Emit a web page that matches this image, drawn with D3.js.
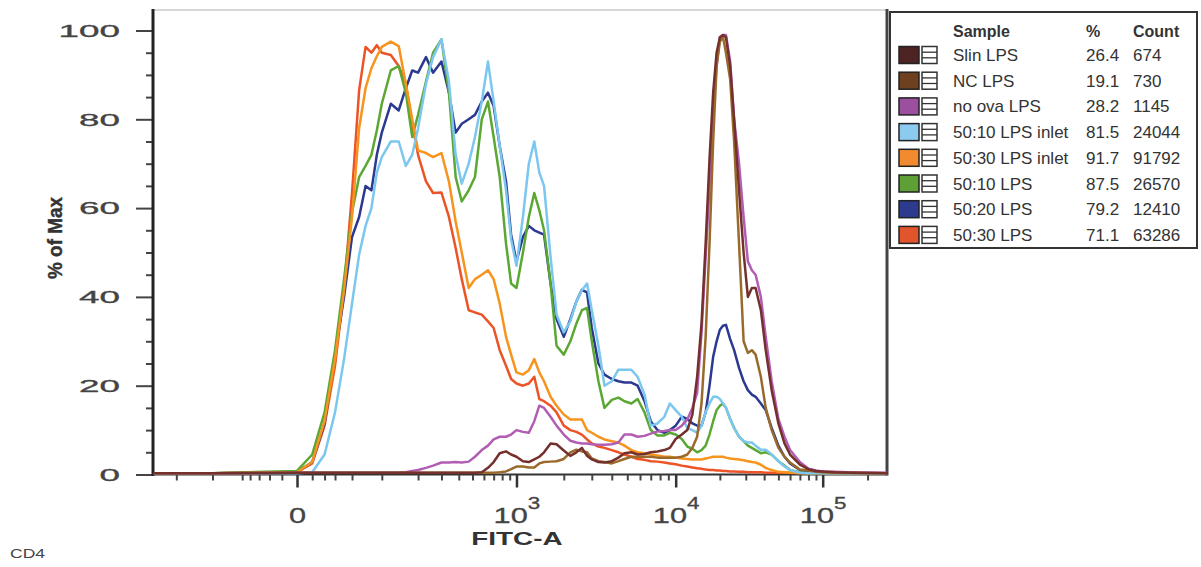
<!DOCTYPE html>
<html><head><meta charset="utf-8">
<script src="https://cdn.jsdelivr.net/npm/d3@7"></script>
<style>
body{margin:0;background:#fff;}
svg{display:block;font-family:"Liberation Sans",Arial,Helvetica,sans-serif;}
</style>
</head><body>
<svg id="c" width="1201" height="567"></svg>
<script>
// ---------------- DATA ----------------
// FITC-A bin centres (logicle display)
const binValues = [-300, -100, 0, 10, 20, 30, 40, 50, 60, 70,
  80, 90, 100, 120, 140, 160, 180, 200, 230, 260,
  300, 340, 380, 420, 470, 520, 580, 640, 700, 770,
  850, 920, 1000, 1100, 1200, 1300, 1400, 1500, 1650, 1800,
  2000, 2200, 2400, 2600, 2800, 3000, 3300, 3600, 4000, 4400,
  4800, 5300, 5800, 6400, 7000, 7700, 8500, 9200, 10000, 11000,
  12000, 13000, 14000, 15000, 16000, 17000, 18000, 19000, 20000, 21000,
  22000, 23500, 25000, 27000, 29000, 31000, 33000, 35000, 38000, 41000,
  45000, 50000, 55000, 60000, 70000, 80000, 90000, 100000, 120000, 150000,
  270000];

const seriesNames = ["Slin LPS", "NC LPS", "no ova LPS", "50:10 LPS inlet", "50:30 LPS inlet", "50:10 LPS", "50:20 LPS", "50:30 LPS"];
const seriesPercent = ["26.4", "19.1", "28.2", "81.5", "91.7", "87.5", "79.2", "71.1"];
const seriesCount = ["674", "730", "1145", "24044", "91792", "26570", "12410", "63286"];
const seriesColors = ["#74302d", "#9a6a2c", "#b25db4", "#7cc7ef", "#f7941d", "#5aa833", "#2b3990", "#ec5427"];
const swatchColors = ["#4e2323", "#6e4020", "#9c4f9e", "#8ccbef", "#f28b2f", "#5e9f36", "#2d3b8e", "#e0552c"];

// % of Max per bin
const slinLPS = [0.3, 0.3, 0.4, 0.4, 0.4, 0.4, 0.4, 0.4, 0.4, 0.4,
  0.4, 0.4, 0.4, 0.4, 0.4, 0.4, 0.4, 0.4, 0.4, 0.4,
  0.4, 0.4, 0.4, 0.4, 0.4, 0.4, 0.5, 1.5, 2.8, 4.8,
  5.2, 4.5, 4, 3, 2.8, 3.4, 4, 5, 7, 6.8,
  5.4, 4.2, 5, 6, 4.2, 3.4, 2.8, 2.7, 3, 3.8,
  4.8, 5, 4.5, 4.6, 5, 5.2, 5.5, 6, 8, 9,
  10, 13.5, 22, 34, 52, 71, 86, 95, 98.5, 99,
  98.5, 92, 80, 64, 50, 40, 42, 42, 37, 28,
  19, 11.5, 7, 4.5, 2.2, 1.2, 0.8, 0.7, 0.5, 0.4,
  0.3];
const ncLPS = [0.3, 0.3, 0.4, 0.4, 0.4, 0.4, 0.4, 0.4, 0.4, 0.4,
  0.4, 0.4, 0.4, 0.4, 0.4, 0.4, 0.4, 0.4, 0.4, 0.4,
  0.4, 0.4, 0.4, 0.4, 0.4, 0.4, 0.4, 0.4, 0.4, 0.5,
  0.7, 1.2, 1.8, 1.8, 1.6, 1.6, 2.5, 2.8, 2.9, 3,
  3.5, 5, 5.6, 5.2, 5, 3.6, 3, 2.8, 2.5, 3,
  3.5, 4, 4, 4, 4, 3.8, 3.8, 3.8, 3.8, 4,
  4.5, 6, 8.5, 16, 31, 52, 75, 92, 97.5, 98.5,
  95, 89, 75, 52, 30, 27.4, 28, 27, 22, 15,
  10, 6, 4, 2.7, 1.1, 0.9, 0.6, 0.5, 0.4, 0.4,
  0.3];
const noOvaLPS = [0.3, 0.3, 0.4, 0.4, 0.4, 0.4, 0.4, 0.4, 0.4, 0.4,
  0.4, 0.4, 0.4, 0.4, 0.4, 0.5, 0.8, 1, 1.5, 2,
  2.7, 2.7, 2.8, 2.7, 2.9, 4, 5.5, 6.5, 7.9, 8.5,
  8.5, 9, 10, 9.6, 9.4, 12, 15.5, 15, 13, 11,
  9, 7.6, 7.2, 7, 7, 6.8, 6.7, 6.7, 6.8, 7.2,
  9, 9, 8.5, 8.7, 9.2, 9.7, 9.8, 10, 10, 11,
  12.4, 15, 18.4, 32, 49, 65, 81, 92, 98.5, 99,
  99, 93, 80, 70, 58, 48, 46, 45, 40, 31,
  21, 12.5, 8.5, 5.5, 2.8, 1.3, 0.9, 0.7, 0.6, 0.5,
  0.4];
const lps5010Inlet = [0.3, 0.3, 0.3, 0.5, 4.5, 14, 26, 38.5, 49.5, 56,
  60, 68, 71.5, 75, 75, 69.5, 72, 78, 88, 94,
  98, 88.5, 72, 65.5, 70, 76, 84, 93, 84, 74,
  64, 53, 47, 58, 70, 75, 68, 65, 49, 36,
  32, 34.5, 39, 41.5, 43, 37, 29, 20, 21, 23.6,
  23.6, 23.6, 22, 18, 11, 11.5, 13, 16, 14.5, 13,
  10.5, 10, 9.4, 11, 14, 16, 17.5, 17.5, 17, 16,
  15, 12.5, 10.5, 8.5, 7.5, 7.2, 7.2, 6.5, 5.6, 5.6,
  4.5, 3, 1.8, 1, 0.4, 0.3, 0.3, 0.3, 0.3, 0.3,
  0.3];
const lps5030Inlet = [0.3, 0.3, 0.5, 2.8, 12, 26, 41.5, 58, 78, 87,
  91.5, 94.2, 96.3, 97.5, 96.5, 88, 80, 73, 72.4, 71.5,
  72.4, 66, 57, 50, 42, 44, 45, 46, 44, 38.5,
  31, 27, 23, 22.5, 23.5, 26, 23, 21, 17.5, 15.5,
  13.5, 12.4, 12.4, 12.4, 10, 9.4, 8.5, 7.9, 7.5, 7.2,
  6.5, 5.5, 5, 4.8, 4.5, 4.3, 4, 4, 3.8, 3.6,
  3.5, 3.4, 3.4, 3.4, 3.6, 3.8, 4, 4, 4, 4,
  3.8, 3.6, 3.5, 3.4, 3.2, 3, 2.8, 2.7, 2.2, 1.5,
  1, 0.6, 0.5, 0.4, 0.3, 0.3, 0.3, 0.3, 0.3, 0.3,
  0.3];
const lps5010 = [0.3, 0.3, 0.8, 4.5, 14, 28, 44, 59, 67, 69.5,
  72, 77.5, 83.5, 91, 92, 86, 76, 81, 88.5, 95,
  98, 86, 67, 61.5, 64, 67, 80, 84, 76, 67,
  52, 43, 42, 50, 58, 63.4, 59.5, 55, 43, 29,
  27, 30, 34, 37, 37.5, 30, 21, 15, 16.8, 17.3,
  16.5, 16, 17, 14, 10, 8.8, 8.8, 9.4, 9, 8,
  6.3, 5.8, 5, 5.5, 6.5, 9, 12, 14.5, 15.5, 16,
  15, 12.5, 10.5, 8.5, 7.5, 6.5, 6, 5.5, 4.8, 5,
  4.5, 3, 2, 1, 0.5, 0.3, 0.3, 0.3, 0.3, 0.3,
  0.3];
const lps5020 = [0.3, 0.3, 0.5, 2.8, 11.5, 27, 40, 53.5, 58, 65,
  64, 72, 77, 83.5, 82, 87, 91, 90.5, 94, 90.5,
  93, 86, 77, 79, 80, 81, 84, 86, 83, 74,
  66, 54, 48, 53.5, 56, 55, 54.5, 54, 43, 35,
  31, 35, 39, 41.6, 41, 33, 25, 22.5, 21.5, 21,
  20.7, 20.7, 20, 16.5, 12, 10, 9.4, 10, 11, 13,
  12.5, 11.5, 11, 11, 14, 20, 26.5, 30, 32.6, 33.5,
  33.7, 30.5, 28, 24, 21, 19, 18, 17.5, 16, 14.5,
  10.5, 6.5, 4, 2.5, 1, 0.5, 0.3, 0.3, 0.3, 0.3,
  0.3];
const lps5030 = [0.3, 0.3, 0.5, 2.5, 11, 24.5, 41.5, 63.4, 86.5, 96.3,
  95, 96.7, 95, 94.5, 92, 88, 79, 72, 66, 63.4,
  63.5, 58, 51, 44, 37, 36.5, 36, 34.5, 33, 28,
  24.5, 21.5, 20.5, 20, 20.5, 22, 17, 16.5, 15.5, 14,
  11, 10, 9.6, 9, 7.9, 7, 6.3, 6, 5.5, 5,
  4.5, 4, 3.5, 3.3, 3, 2.9, 2.7, 2.5, 2.3, 2,
  1.8, 1.6, 1.4, 1.3, 1.1, 1, 1, 0.9, 0.9, 0.8,
  0.8, 0.7, 0.7, 0.6, 0.6, 0.5, 0.5, 0.5, 0.5, 0.4,
  0.4, 0.4, 0.4, 0.4, 0.4, 0.3, 0.3, 0.3, 0.3, 0.3,
  0.3];

const seriesValues = [slinLPS, ncLPS, noOvaLPS, lps5010Inlet, lps5030Inlet, lps5010, lps5020, lps5030];

// axis ticks
const xMajorTicks = [0, 1000, 10000, 100000];
const xMinorTicks = [-200, -100, -50, -40, -30, -20, -10, 10, 20, 30, 50,
  100, 200, 300, 400, 500, 600, 700, 800, 900,
  2000, 3000, 4000, 5000, 6000, 7000, 8000, 9000,
  20000, 30000, 40000, 50000, 60000, 70000, 80000, 90000, 200000];
const yMajorTicks = [0, 20, 40, 60, 80, 100];
const yMinorTicks = [5, 10, 15, 25, 30, 35, 45, 50, 55, 65, 70, 75, 85, 90, 95];

// logicle-like display calibration: anchor values and their fraction of plot width
const X_ANCHORS = [-300, 0, 1000, 10000, 100000, 270000];
const X_ANCHOR_FRAC = [0, 0.1962, 0.4952, 0.7121, 0.9124, 1];

// ---------------- LAYOUT ----------------
const plotLeft = 153, plotRight = 887, plotTop = 10, plotBottom = 474.5;
const svg = d3.select("#c");

const xSym = d3.scaleSymlog().constant(39.3).domain([0, 270000]).range([0, 1]);
const xPiece = d3.scaleLinear()
  .domain(X_ANCHORS.map(xSym))
  .range(X_ANCHOR_FRAC.map(f => plotLeft + f * (plotRight - plotLeft)));
function x(v) { return xPiece(xSym(v)); }
x.copy = () => x;
x.range = () => xPiece.range();
x.domain = () => [X_ANCHORS[0], X_ANCHORS[X_ANCHORS.length - 1]];

const y = d3.scaleLinear().domain([0, 100]).range([plotBottom, 30.5]);

// frame
svg.append("line").attr("x1", plotLeft).attr("x2", plotRight).attr("y1", plotTop).attr("y2", plotTop)
  .attr("stroke", "#b0b0b0").attr("stroke-width", 1.2);
svg.append("line").attr("x1", plotRight).attr("x2", plotRight).attr("y1", plotTop - 1).attr("y2", plotBottom + 1)
  .attr("stroke", "#444").attr("stroke-width", 3);
svg.append("line").attr("x1", plotLeft).attr("x2", plotRight).attr("y1", plotBottom).attr("y2", plotBottom)
  .attr("stroke", "#333").attr("stroke-width", 2);

// x minor ticks
const gxMin = svg.append("g").attr("transform", `translate(0,${plotBottom})`)
  .call(d3.axisBottom(x).tickValues(xMinorTicks).tickSize(6).tickSizeOuter(0).tickFormat(""));
gxMin.select(".domain").remove();
gxMin.selectAll(".tick line").attr("stroke", "#444").attr("stroke-width", 2);

// x major ticks + labels
const gxMaj = svg.append("g").attr("transform", `translate(0,${plotBottom})`)
  .call(d3.axisBottom(x).tickValues(xMajorTicks).tickSize(13).tickSizeOuter(0).tickFormat(""));
gxMaj.select(".domain").remove();
gxMaj.attr("font-family", null).attr("font-size", null);
gxMaj.selectAll(".tick line").attr("stroke", "#333").attr("stroke-width", 2.5);
gxMaj.selectAll(".tick text").each(function(d) {
  const t = d3.select(this).attr("y", null).attr("dy", null)
    .attr("fill", "#444").attr("font-size", 22).attr("text-anchor", "middle")
    .attr("stroke", "#444").attr("stroke-width", 0.3)
    .attr("transform", "translate(0,48.5) scale(1.4,1)").text(null);
  if (d === 0) { t.text("0"); }
  else {
    t.append("tspan").text("10");
    t.append("tspan").attr("dy", -14).attr("font-size", 16).text(String(Math.round(Math.log10(d))));
  }
});

// y minor ticks
const gyMin = svg.append("g").attr("transform", `translate(${plotLeft},0)`)
  .call(d3.axisLeft(y).tickValues(yMinorTicks).tickSize(7).tickSizeOuter(0).tickFormat(""));
gyMin.select(".domain").remove();
gyMin.selectAll(".tick line").attr("stroke", "#444").attr("stroke-width", 2);

// y major ticks + labels
const gyMaj = svg.append("g").attr("transform", `translate(${plotLeft},0)`)
  .call(d3.axisLeft(y).tickValues(yMajorTicks).tickSize(17).tickSizeOuter(0));
gyMaj.select(".domain").remove();
gyMaj.attr("font-family", null).attr("font-size", null);
gyMaj.selectAll(".tick line").attr("stroke", "#444").attr("stroke-width", 2);
gyMaj.selectAll(".tick text")
  .attr("x", null).attr("dy", null)
  .attr("fill", "#444").attr("font-size", 16).attr("text-anchor", "end")
  .attr("stroke", "#444").attr("stroke-width", 0.3)
  .attr("transform", "translate(-33,5.7) scale(2.3,1)");

// left axis line
svg.append("line").attr("x1", plotLeft).attr("x2", plotLeft).attr("y1", plotTop - 1).attr("y2", plotBottom + 1.5)
  .attr("stroke", "#222").attr("stroke-width", 3);

// histogram lines
const line = d3.line()
  .x((d, i) => x(binValues[i]))
  .y(d => y(d))
  .curve(d3.curveLinear);
const drawOrder = [7, 6, 5, 4, 3, 2, 1, 0];
svg.append("g").selectAll("path").data(drawOrder).join("path")
  .attr("d", k => line(seriesValues[k]))
  .attr("fill", "none")
  .attr("stroke", k => seriesColors[k])
  .attr("stroke-width", 2.5)
  .attr("stroke-linejoin", "round");

// axis titles
svg.append("text").attr("transform", "translate(62,238) rotate(-90) scale(0.9,1)")
  .attr("text-anchor", "middle").attr("font-weight", "bold").attr("font-size", 21)
  .attr("fill", "#333").attr("stroke", "#333").attr("stroke-width", 0.4).text("% of Max");
svg.append("text").attr("transform", "translate(517,545) scale(1.55,1)")
  .attr("text-anchor", "middle").attr("font-weight", "bold").attr("font-size", 18)
  .attr("fill", "#333").text("FITC-A");
svg.append("text").attr("transform", "translate(10,558) scale(1.35,1)")
  .attr("font-size", 13).attr("fill", "#444").text("CD4");

// legend
const lg = svg.append("g");
lg.append("rect").attr("x", 890).attr("y", 12).attr("width", 307).attr("height", 236)
  .attr("fill", "#fff").attr("stroke", "#333").attr("stroke-width", 2);
const hdr = [["Sample", 953], ["%", 1086], ["Count", 1133]];
lg.selectAll("text.h").data(hdr).join("text").attr("class", "h")
  .attr("x", d => d[1]).attr("y", 36.5).attr("font-size", 16).attr("font-weight", "bold")
  .attr("fill", "#333").text(d => d[0]);
const rows = lg.selectAll("g.row").data(seriesNames).join("g").attr("class", "row")
  .attr("transform", (d, i) => `translate(0,${55 + i * 25.7})`);
rows.append("rect").attr("x", 899).attr("y", -8.5).attr("width", 20).attr("height", 17)
  .attr("fill", (d, i) => swatchColors[i]).attr("stroke", "#222").attr("stroke-width", 1.5);
rows.append("rect").attr("x", 922).attr("y", -8.5).attr("width", 15).attr("height", 17)
  .attr("fill", "#fff").attr("stroke", "#333").attr("stroke-width", 1.5);
rows.append("line").attr("x1", 922).attr("x2", 937).attr("y1", -2.8).attr("y2", -2.8).attr("stroke", "#333").attr("stroke-width", 1.3);
rows.append("line").attr("x1", 922).attr("x2", 937).attr("y1", 2.8).attr("y2", 2.8).attr("stroke", "#333").attr("stroke-width", 1.3);
rows.append("text").attr("x", 953).attr("y", 6).attr("font-size", 17).attr("fill", "#333").text(d => d);
rows.append("text").attr("x", 1086).attr("y", 6).attr("font-size", 17).attr("fill", "#333").text((d, i) => seriesPercent[i]);
rows.append("text").attr("x", 1133).attr("y", 6).attr("font-size", 17).attr("fill", "#333").text((d, i) => seriesCount[i]);
</script>
</body></html>
